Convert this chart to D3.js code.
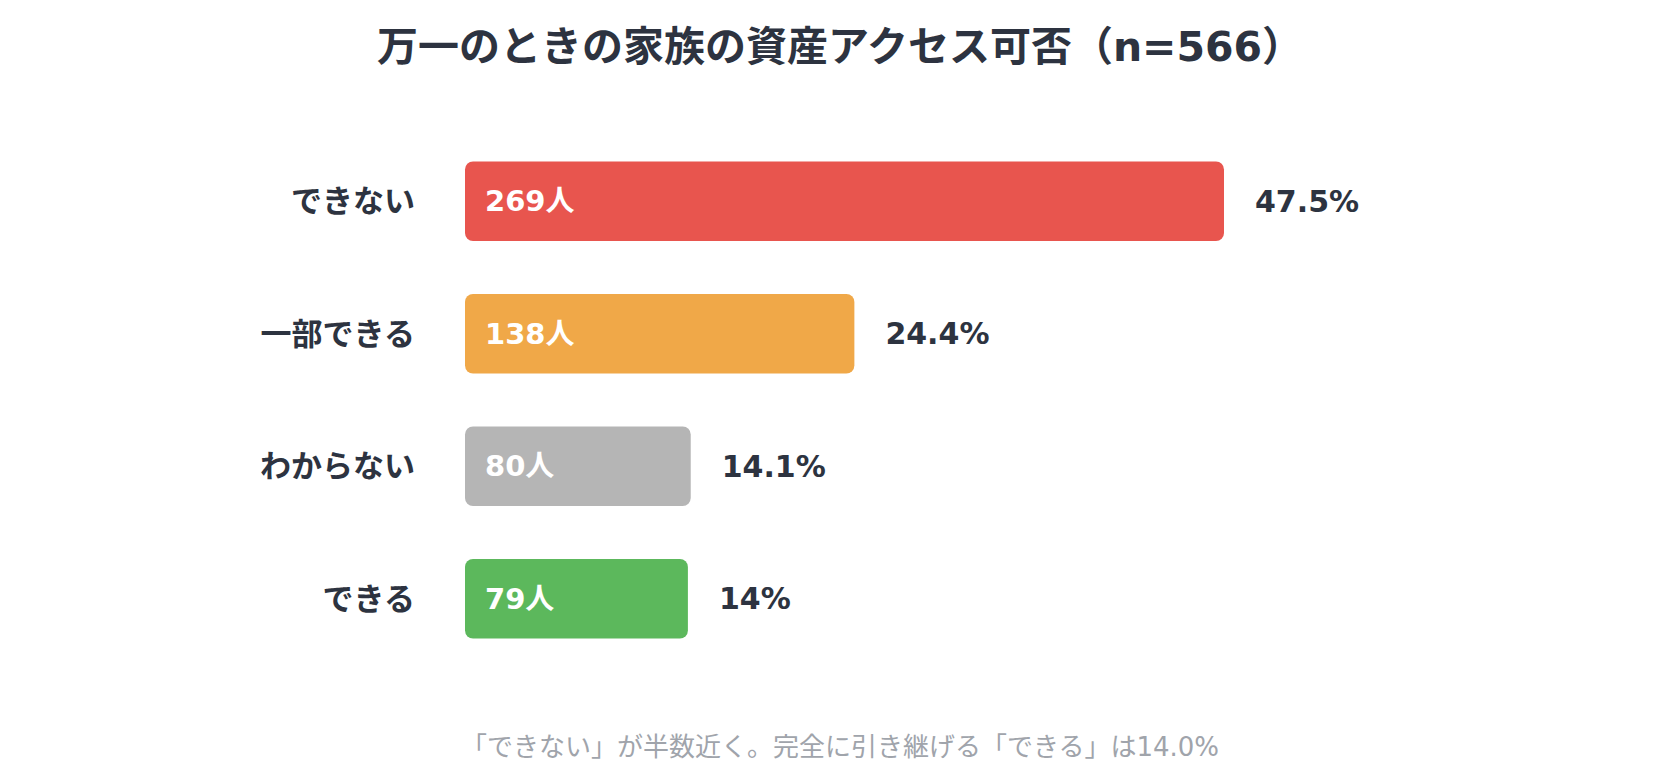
<!DOCTYPE html>
<html>
<head>
<meta charset="UTF-8">
<title>万一のときの家族の資産アクセス可否</title>
<script src="https://cdn.jsdelivr.net/npm/d3@7"></script>
<style>
  html, body { margin: 0; padding: 0; background: #fff; }
  text { font-family: "DejaVu Sans", "Noto Sans CJK JP", sans-serif; }
</style>
</head>
<body>
<script>
// data
var categories = ['できない', '一部できる', 'わからない', 'できる'];
var counts = [269, 138, 80, 79];
var percents = ['47.5%', '24.4%', '14.1%', '14%'];
var colors = ['#E8554E', '#F0A848', '#B5B5B5', '#5CB85C'];
var titleText = '万一のときの家族の資産アクセス可否（n=566）';
var noteText = '「できない」が半数近く。完全に引き継げる「できる」は14.0%';

var width = 1680, height = 777;
var left = 465, barMax = 759;

var svg = d3.select('body').append('svg')
  .attr('width', width)
  .attr('height', height);

var x = d3.scaleLinear().domain([0, d3.max(counts)]).range([0, barMax]);
var y = d3.scaleBand().domain(categories).range([135, 665])
  .paddingInner(0.4).paddingOuter(0.2);

var rows = categories.map(function(c, i) {
  return {cat: c, n: counts[i], pct: percents[i], color: colors[i]};
});

// title
svg.append('text')
  .attr('x', width / 2)
  .attr('y', 47)
  .attr('text-anchor', 'middle')
  .attr('dominant-baseline', 'central')
  .attr('font-size', 41)
  .attr('font-weight', 700)
  .attr('fill', '#2D3340')
  .text(titleText);

var g = svg.selectAll('g.row').data(rows).enter().append('g').attr('class', 'row');

g.append('rect')
  .attr('x', left)
  .attr('y', function(d) { return y(d.cat); })
  .attr('width', function(d) { return x(d.n); })
  .attr('height', y.bandwidth())
  .attr('rx', 8)
  .attr('fill', function(d) { return d.color; });

// category labels
g.append('text')
  .attr('x', left - 50)
  .attr('y', function(d) { return y(d.cat) + y.bandwidth() / 2; })
  .attr('text-anchor', 'end')
  .attr('dominant-baseline', 'central')
  .attr('font-size', 31)
  .attr('font-weight', 700)
  .attr('fill', '#2D3340')
  .text(function(d) { return d.cat; });

// count inside bar
g.append('text')
  .attr('x', left + 20)
  .attr('y', function(d) { return y(d.cat) + y.bandwidth() / 2; })
  .attr('dominant-baseline', 'central')
  .attr('font-size', 29)
  .attr('font-weight', 700)
  .attr('fill', '#fff')
  .text(function(d) { return d.n + '人'; });

// percent after bar
g.append('text')
  .attr('x', function(d) { return left + x(d.n) + 31; })
  .attr('y', function(d) { return y(d.cat) + y.bandwidth() / 2; })
  .attr('dominant-baseline', 'central')
  .attr('font-size', 30)
  .attr('font-weight', 700)
  .attr('fill', '#2D3340')
  .text(function(d) { return d.pct; });

// note
svg.append('text')
  .attr('x', width / 2)
  .attr('y', 747)
  .attr('text-anchor', 'middle')
  .attr('dominant-baseline', 'central')
  .attr('font-size', 26)
  .attr('fill', '#A0A4AB')
  .text(noteText);
</script>
</body>
</html>
